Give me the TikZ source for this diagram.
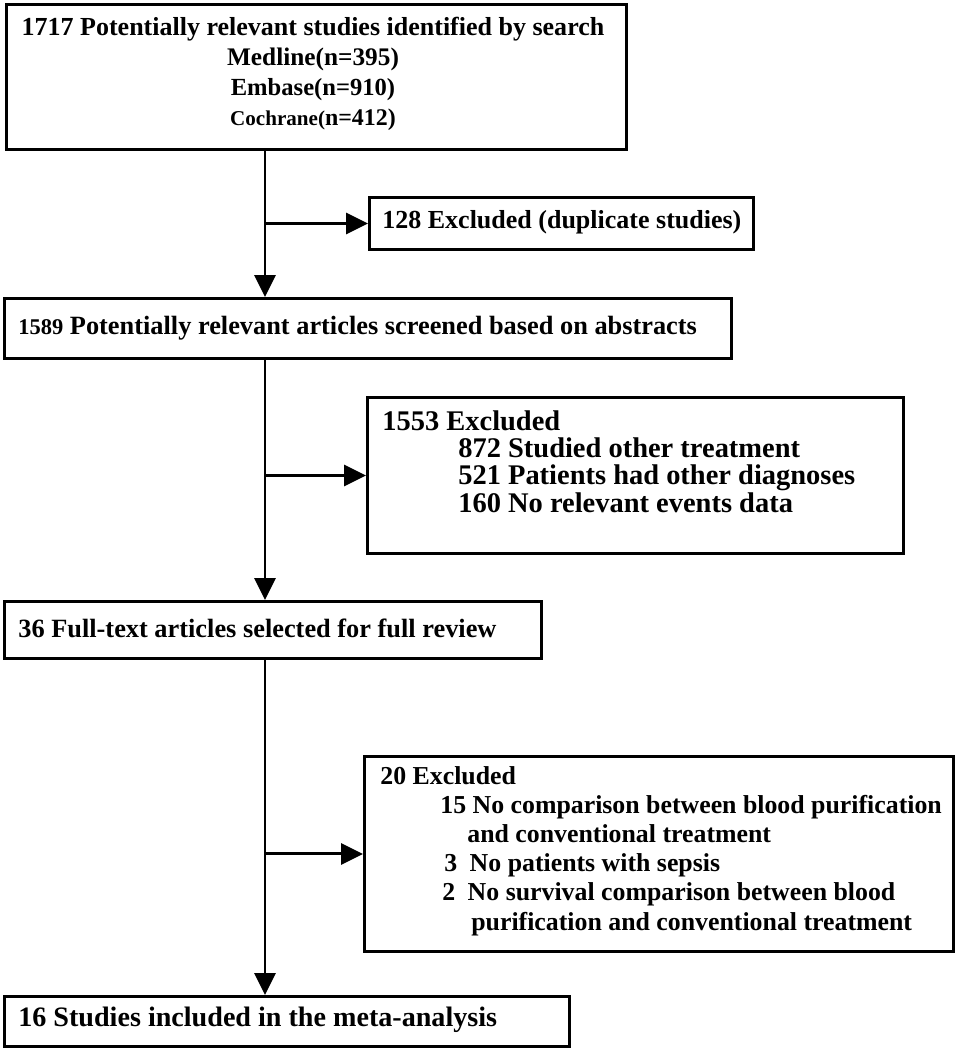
\documentclass[tikz,border=0pt]{standalone}
\usepackage{fontspec}
\setmainfont{Liberation Serif}
\usetikzlibrary{positioning}
\usetikzlibrary{arrows.meta}

\tikzset{
  box/.style={draw, line width=1.7pt, rectangle, inner sep=0pt, anchor=north west},
  txt/.style={font=\bfseries\fontsize{15}{17}\selectfont, inner sep=0pt, align=left},
  flow/.style={line width=1.7pt, -{Triangle[length=0.44cm,width=0.42cm]}}
}

\begin{document}
\begin{tikzpicture}[x=0.02cm,y=-0.02cm]
\useasboundingbox (0,0) rectangle (961,1050);

\node[box, minimum width=12.4cm, minimum height=2.9cm](search) at (5,3){};
\node[box, minimum width=7.68cm, minimum height=1.04cm](dup) at (368,196){};
\node[box, minimum width=14.54cm, minimum height=1.2cm](screen) at (3,297){};
\node[box, minimum width=10.72cm, minimum height=3.12cm](exclA) at (366,396){};
\node[box, minimum width=10.74cm, minimum height=1.14cm](full) at (3,600){};
\node[box, minimum width=11.78cm, minimum height=3.9cm](exclB) at (363,755){};
\node[box, minimum width=11.3cm, minimum height=1.0cm](incl) at (3,995){};

\node[txt, anchor=north, align=center, font=\bfseries\fontsize{14.8}{17}\selectfont](searchtxt) at (313,17){1717 Potentially relevant studies identified by search\\
{\fontsize{14.4}{17}\selectfont Medline(n=395)}\\
{\fontsize{14}{17}\selectfont Embase(n=910)}\\
{\fontsize{12}{17}\selectfont Cochrane(}{\fontsize{13.6}{17}\selectfont n=412)}};
\node[txt, anchor=west, font=\bfseries\fontsize{14.8}{17}\selectfont](duptxt) at (382,222){128 Excluded (duplicate studies)};
\node[txt, anchor=west](screentxt) at (18,328){{\fontsize{12.8}{14}\selectfont 1589} Potentially relevant articles screened based on abstracts};
\node[txt, anchor=north west, font=\bfseries\fontsize{16.2}{15.6}\selectfont](exclAtxt) at (382,410){1553 Excluded\\
\hspace*{1.52cm}872 Studied other treatment\\
\hspace*{1.52cm}521 Patients had other diagnoses\\
\hspace*{1.52cm}160 No relevant events data};
\node[txt, anchor=west](fulltxt) at (18,628){36 Full-text articles selected for full review};
\node[txt, anchor=north west, font=\bfseries\fontsize{14.7}{16.6}\selectfont](exclBtxt) at (380,766){20 Excluded\\
\hspace*{1.2cm}15 No comparison between blood purification\\
\hspace*{1.74cm}and conventional treatment\\
\hspace*{1.28cm}3\hspace*{0.25cm}No patients with sepsis\\
\hspace*{1.24cm}2\hspace*{0.25cm}No survival comparison between blood\\
\hspace*{1.82cm}purification and conventional treatment};
\node[txt, anchor=west, font=\bfseries\fontsize{16}{18}\selectfont](incltxt) at (18,1020){16 Studies included in the meta-analysis};

\coordinate (trunk) at (265,0);

% main flow
\draw[flow] (search.south -| trunk) -- (screen.north -| trunk);
\draw[flow] (screen.south -| trunk) -- (full.north -| trunk);
\draw[flow] (full.south -| trunk) -- (incl.north -| trunk);

% exclusions
\draw[flow] (dup.west -| trunk) -- (dup.west);
\draw[flow] (exclA.west -| trunk) -- (exclA.west);
\draw[flow] (exclB.west -| trunk) -- (exclB.west);
\end{tikzpicture}
\end{document}
